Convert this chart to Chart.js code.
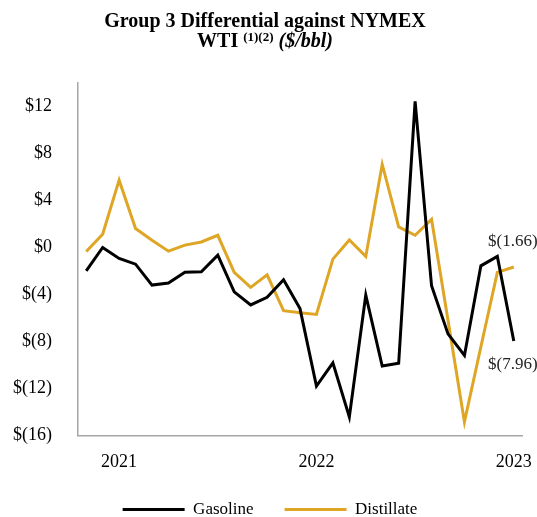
<!DOCTYPE html>
<html>
<head>
<meta charset="utf-8">
<script src="https://cdn.jsdelivr.net/npm/chart.js@4.4.0/dist/chart.umd.min.js"></script>
<style>
  html, body { margin: 0; padding: 0; background: #fff; }
  #wrap { width: 537px; height: 517px; position: relative; }
</style>
</head>
<body>
<div id="wrap"><canvas id="chart"></canvas></div>
<script>
// monthly points, Nov 2020 - Jan 2023
const months = [
  '2020-11', '2020-12',
  '2021-01', '2021-02', '2021-03', '2021-04', '2021-05', '2021-06',
  '2021-07', '2021-08', '2021-09', '2021-10', '2021-11', '2021-12',
  '2022-01', '2022-02', '2022-03', '2022-04', '2022-05', '2022-06',
  '2022-07', '2022-08', '2022-09', '2022-10', '2022-11', '2022-12',
  '2023-01'
];
const gasoline = [
  -1.98, 0.00,
  -0.93, -1.42, -3.20, -3.03, -2.10, -2.07,
  -0.65, -3.77, -4.89, -4.24, -2.75, -5.20,
  -11.79, -9.81, -14.42, -4.05, -10.09, -9.85,
  12.43, -3.26, -7.35, -9.19, -1.56, -0.76,
  -7.96
];
const distillate = [
  -0.34, 1.13,
  5.73, 1.61, 0.62, -0.31, 0.20, 0.47,
  1.04, -2.12, -3.39, -2.32, -5.38, -5.55,
  -5.70, -0.99, 0.64, -0.76, 7.07, 1.75,
  1.04, 2.40, -6.20, -14.84, -8.45, -2.12,
  -1.66
];
const yTicks = [-16, -12, -8, -4, 0, 4, 8, 12];

const serif = "'Liberation Serif', 'Times New Roman', serif";
const gold = '#DFA626';

function money(v, dp) {
  const s = Math.abs(v).toFixed(dp || 0);
  return v < 0 ? '$(' + s + ')' : '$' + s;
}

// two-line title with superscript and italic part
const titlePlugin = {
  id: 'titleText',
  afterLayout(chart) {
    // legend sits a little right of the plot centre in the original
    chart.legend.left += 9;
    chart.legend.right += 9;
  },
  afterDraw(chart) {
    const ctx = chart.ctx;
    const cx = 265;
    ctx.save();
    ctx.fillStyle = '#000';
    ctx.textAlign = 'left';
    ctx.textBaseline = 'alphabetic';

    ctx.font = 'bold 20px ' + serif;
    const l1 = 'Group 3 Differential against NYMEX';
    ctx.fillText(l1, cx - ctx.measureText(l1).width / 2, 27);

    const a = 'WTI ', b = '(1)(2)', c = ' ($/bbl)';
    ctx.font = 'bold 20px ' + serif;
    const wa = ctx.measureText(a).width;
    ctx.font = 'bold 13px ' + serif;
    const wb = ctx.measureText(b).width;
    ctx.font = 'italic bold 20px ' + serif;
    const wc = ctx.measureText(c).width;
    let x = cx - (wa + wb + wc) / 2;
    ctx.font = 'bold 20px ' + serif;
    ctx.fillText(a, x, 46.5);
    x += wa;
    ctx.font = 'bold 13px ' + serif;
    ctx.fillText(b, x, 41);
    x += wb;
    ctx.font = 'italic bold 20px ' + serif;
    ctx.fillText(c, x, 46.5);
    ctx.restore();
  }
};

// value labels at the last point of each line
const endLabels = {
  id: 'endLabels',
  afterDatasetsDraw(chart) {
    const ctx = chart.ctx;
    ctx.save();
    ctx.font = '17px ' + serif;
    ctx.fillStyle = '#222';
    ctx.textAlign = 'center';
    ctx.textBaseline = 'middle';
    chart.data.datasets.forEach((ds, i) => {
      const pts = chart.getDatasetMeta(i).data;
      const last = pts[pts.length - 1];
      const v = ds.data[ds.data.length - 1];
      const dy = ds.label === 'Distillate' ? -25 : 24;
      ctx.fillText(money(v, 2), last.x - 1, last.y + dy);
    });
    ctx.restore();
  }
};

new Chart(document.getElementById('chart'), {
  type: 'line',
  data: {
    labels: months,
    datasets: [
      {
        label: 'Gasoline',
        data: gasoline,
        borderColor: '#000',
        backgroundColor: '#000',
        borderWidth: 3,
        pointRadius: 0,
        tension: 0
      },
      {
        label: 'Distillate',
        data: distillate,
        borderColor: gold,
        backgroundColor: gold,
        borderWidth: 3,
        pointRadius: 0,
        tension: 0
      }
    ]
  },
  options: {
    responsive: true,
    maintainAspectRatio: false,
    animation: false,
    layout: { padding: { top: 83, right: 15, bottom: -11, left: 0 } },
    plugins: {
      title: { display: false },
      tooltip: { enabled: false },
      legend: {
        position: 'bottom',
        labels: {
          usePointStyle: true,
          pointStyle: 'line',
          pointStyleWidth: 62,
          padding: 31,
          color: '#000',
          font: { family: serif, size: 17 }
        }
      }
    },
    scales: {
      x: {
        offset: true,
        grid: { display: false, drawTicks: false },
        border: { display: true, color: '#a6a6a6', width: 1.5 },
        afterFit(scale) {
          scale.height = 34.5;
          scale.paddingLeft = 0;
          scale.paddingRight = 0;
        },
        ticks: {
          autoSkip: false,
          maxRotation: 0,
          padding: 15.5,
          color: '#000',
          font: { family: serif, size: 18 },
          callback(val, idx) {
            const m = months[idx];
            return m.endsWith('-01') ? m.slice(0, 4) : '';
          }
        }
      },
      y: {
        min: -16,
        max: 14,
        grid: { display: false, drawTicks: false },
        border: { display: true, color: '#a6a6a6', width: 1.5 },
        afterFit(scale) { scale.width = 78; },
        afterBuildTicks(scale) {
          scale.ticks = yTicks.map(v => ({ value: v }));
        },
        ticks: {
          padding: 26,
          color: '#000',
          font: { family: serif, size: 18 },
          callback: v => money(v)
        }
      }
    }
  },
  plugins: [titlePlugin, endLabels]
});
</script>
</body>
</html>
